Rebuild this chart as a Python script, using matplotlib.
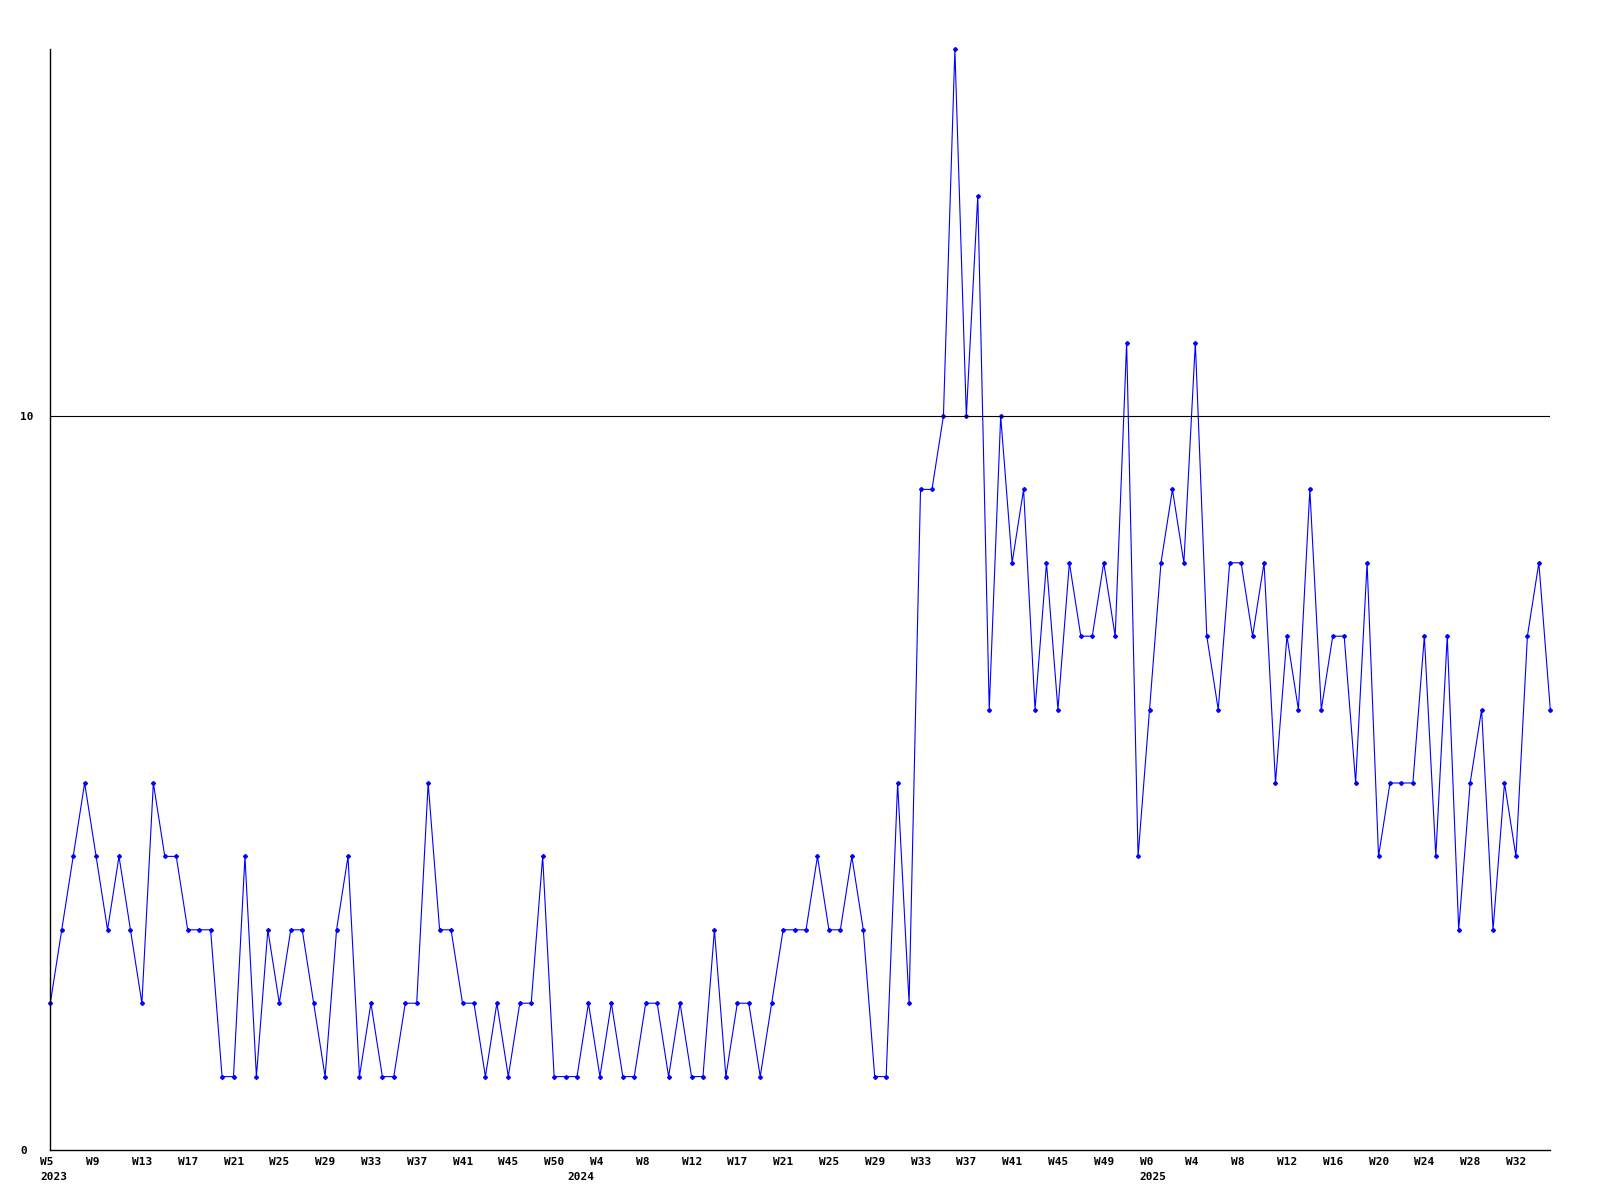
import matplotlib
matplotlib.use("Agg")
import matplotlib.pyplot as plt
from matplotlib.transforms import offset_copy

# weekly counts, W5 2023 onwards
counts = [2, 3, 4, 5, 4, 3, 4, 3, 2, 5, 4, 4, 3, 3, 3, 1, 1, 4, 1, 3, 2, 3, 3, 2,
          1, 3, 4, 1, 2, 1, 1, 2, 2, 5, 3, 3, 2, 2, 1, 2, 1, 2, 2, 4,
          1, 1, 1, 2, 1, 2, 1, 1, 2, 2, 1, 2, 1, 1, 3, 1, 2, 2, 1, 2, 3, 3, 3, 4,
          3, 3, 4, 3, 1, 1, 5, 2, 9, 9, 10, 15, 10, 13, 6, 10, 8, 9, 6, 8, 6, 8,
          7, 7, 8, 7, 11, 4, 6, 8, 9, 8, 11, 7, 6, 8, 8, 7, 8, 5, 7, 6,
          9, 6, 7, 7, 5, 8, 4, 5, 5, 5, 7, 4, 7, 3, 5, 6, 3, 5, 4, 7, 8, 6]

week_labels = ["W5", "W9", "W13", "W17", "W21", "W25", "W29", "W33", "W37", "W41",
               "W45", "W50", "W4", "W8", "W12", "W17", "W21", "W25", "W29", "W33",
               "W37", "W41", "W45", "W49", "W0", "W4", "W8", "W12", "W16", "W20",
               "W24", "W28", "W32"]
week_pos = list(range(0, 129, 4))

years = ["2023", "2024", "2025"]
year_pos = [0, 46, 96]

y_ticks = [0, 10]

fig = plt.figure(figsize=(16, 12), dpi=100)
ax = fig.add_axes([50.3 / 1600, 50 / 1200, 1500 / 1600, 1101 / 1200])

x = list(range(len(counts)))
ax.plot(x, counts, color="#0000ff", linewidth=0.8, marker="D", markersize=2,
        clip_on=False)
ax.axhline(10, color="black", linewidth=0.8)

ax.set_xlim(0, len(counts) - 1)
ax.set_ylim(0, 15)

for side in ["top", "right"]:
    ax.spines[side].set_visible(False)
for side in ["left", "bottom"]:
    ax.spines[side].set_linewidth(1.0)

ax.set_xticks([])
ax.set_yticks(y_ticks)
ax.set_yticklabels([str(t) for t in y_ticks], family="DejaVu Sans Mono",
                   fontweight="bold", fontsize=8, ha="left")
ax.tick_params(axis="y", length=0, pad=21.7)

font = dict(family="DejaVu Sans Mono", fontweight="bold", fontsize=8)
week_tr = offset_copy(ax.transData, fig=fig, x=-10, y=-12, units="dots")
for pos, lab in zip(week_pos, week_labels):
    ax.text(pos, 0, lab, transform=week_tr, ha="left", va="center", **font)

year_tr = offset_copy(ax.transData, fig=fig, x=-10, y=-27, units="dots")
for pos, lab in zip(year_pos, years):
    ax.text(pos, 0, lab, transform=year_tr, ha="left", va="center", **font)

fig.savefig("out.png", dpi=100)
